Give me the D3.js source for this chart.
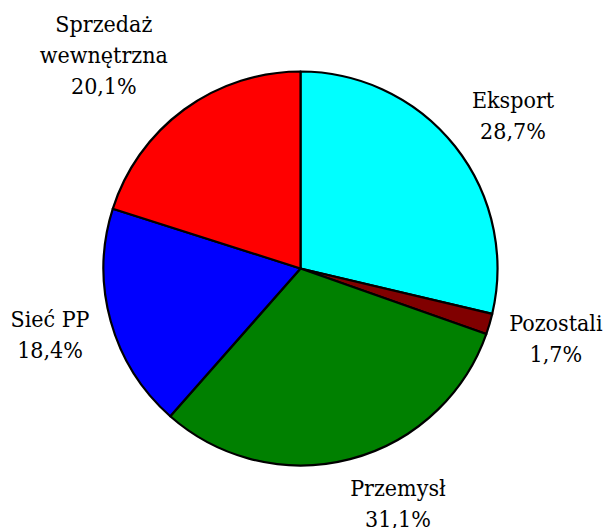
<!DOCTYPE html>
<html>
<head>
<meta charset="utf-8">
<script src="https://cdn.jsdelivr.net/npm/d3@7"></script>
<style>
  html, body { margin: 0; padding: 0; background: #fff; }
  svg { display: block; }
  text.lbl { font-family: "DejaVu Serif", serif; }
</style>
</head>
<body>
<svg id="chart" width="606" height="528"></svg>
<script>
// ---- data ----
const categories = ["Eksport", "Pozostali", "Przemysł", "Sieć PP", "Sprzedaż wewnętrzna"];
const values = [28.7, 1.7, 31.1, 18.4, 20.1];
const valueLabels = ["28,7%", "1,7%", "31,1%", "18,4%", "20,1%"];
const labelLines = [["Eksport"], ["Pozostali"], ["Przemysł"], ["Sieć PP"], ["Sprzedaż", "wewnętrzna"]];
const colors = ["#00FFFF", "#800000", "#008000", "#0000FF", "#FF0000"];

// ---- layout ----
const cx = 300.5, cy = 268.5, R = 197;
const labelR = 262;
const lineH = 31;
const fontSize = 23;
const squeeze = 0.9;
const labelNudge = { "Eksport": [7, 9.5], "Pozostali": [4, -4], "Przemysł": [31.5, -19], "Sieć PP": [2, -3.5], "Sprzedaż wewnętrzna": [-42, -2] };

const svg = d3.select("#chart");
const g = svg.append("g").attr("transform", `translate(${cx},${cy})`);

const table = categories.map((c, i) => ({ name: c, value: values[i], pct: valueLabels[i], lines: labelLines[i], color: colors[i] }));

const pie = d3.pie().sort(null).value(d => d.value);
const arcs = pie(table);
const arc = d3.arc().innerRadius(0).outerRadius(R);
const labelArc = d3.arc().innerRadius(labelR).outerRadius(labelR);

g.selectAll("path.slice")
  .data(arcs)
  .enter().append("path")
  .attr("class", "slice")
  .attr("d", arc)
  .attr("fill", d => d.data.color)
  .attr("stroke", "#000")
  .attr("stroke-width", 2.2)
  .attr("stroke-linejoin", "round");

const labels = g.selectAll("text.lbl")
  .data(arcs)
  .enter().append("text")
  .attr("class", "lbl")
  .attr("text-anchor", "middle")
  .attr("font-size", fontSize)
  .attr("fill", "#000")
  .attr("transform", d => {
    const [px, py] = labelArc.centroid(d);
    const nudge = labelNudge[d.data.name] || [0, 0];
    return `translate(${px + nudge[0]},${py + nudge[1]}) scale(${squeeze},1)`;
  });

labels.each(function(d) {
  const lines = d.data.lines.concat([d.data.pct]);
  const n = lines.length;
  const t = d3.select(this);
  lines.forEach((ln, i) => {
    t.append("tspan")
      .attr("x", 0)
      .attr("y", (i - (n - 1) / 2) * lineH + 8)
      .text(ln);
  });
});
</script>
</body>
</html>
